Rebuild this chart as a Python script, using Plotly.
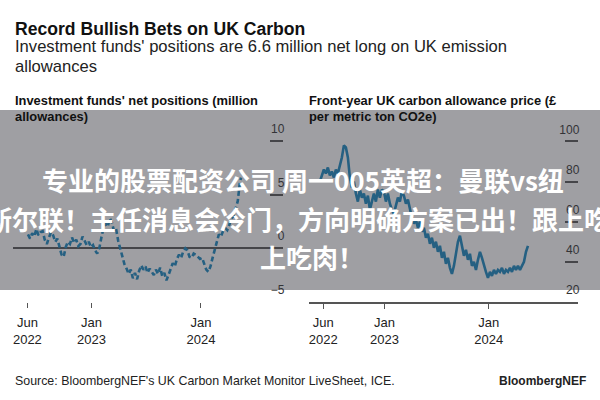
import plotly.graph_objects as go

# ---------------- data ----------------
left_dates = [
    "2022-06-03","2022-06-10","2022-06-17","2022-06-24","2022-07-01","2022-07-08","2022-07-15","2022-07-22",
    "2022-07-29","2022-08-05","2022-08-12","2022-08-19","2022-08-26","2022-09-02","2022-09-09","2022-09-16",
    "2022-09-23","2022-09-30","2022-10-07","2022-10-14","2022-10-21","2022-10-28","2022-11-04","2022-11-11",
    "2022-11-18","2022-11-25","2022-12-02","2022-12-09","2022-12-16","2022-12-23","2022-12-30","2023-01-06",
    "2023-01-13","2023-01-20","2023-01-27","2023-02-03","2023-02-10","2023-02-17","2023-02-24","2023-03-03",
    "2023-03-10","2023-03-17","2023-03-24","2023-03-31","2023-04-07","2023-04-14","2023-04-21","2023-04-28",
    "2023-05-05","2023-05-12","2023-05-19","2023-05-26","2023-06-02","2023-06-09","2023-06-16","2023-06-23",
    "2023-06-30","2023-07-07","2023-07-14","2023-07-21","2023-07-28","2023-08-04","2023-08-11","2023-08-18",
    "2023-08-25","2023-09-01","2023-09-08","2023-09-15","2023-09-22","2023-09-29","2023-10-06","2023-10-13",
    "2023-10-20","2023-10-27","2023-11-03","2023-11-10","2023-11-17","2023-11-24","2023-12-01","2023-12-08",
    "2023-12-15","2023-12-22","2023-12-29","2024-01-05","2024-01-12","2024-01-19","2024-01-26","2024-02-02",
    "2024-02-09","2024-02-16","2024-02-23","2024-03-01","2024-03-08","2024-03-15","2024-03-22","2024-03-29",
    "2024-04-05","2024-04-12","2024-04-19","2024-04-26","2024-05-03","2024-05-10","2024-05-14",
]
left_values = [
    1.3, 0.9, 1.4, 1.1, 1.8, 1.2, 1.5, 1.6,
    0.8, 0.4, 1.0, 1.5, 1.2, 0.6, 0.9, 0.2,
    -0.6, -0.8, 0.1, 0.6, 0.4, 1.0, 0.5, 0.8,
    0.2, 0.4, 1.1, 0.7, 0.3, 0.6, 0.1, 0.3,
    -0.2, -0.5, 0.0, 1.0, 1.9, 2.3, 2.0, 2.8,
    2.4, 1.6, 1.8, 0.7, -0.1, -0.8, -1.5, -1.9,
    -2.4, -2.0, -2.8, -2.3, -2.9, -2.1, -1.6, -2.0,
    -1.7, -2.3, -1.9, -2.2, -2.5, -2.0, -2.4, -1.8,
    -2.6, -2.3, -3.0, -2.5, -1.9, -1.4, -1.7, -1.0,
    -0.6, -0.9, -0.3, 0.0, -0.2, -0.8, -0.9, -0.5,
    -0.6, -0.8, -1.0, -0.9, -1.4, -2.0, -2.2, -1.7,
    -0.9, -0.2, 0.5, 1.3, 1.1, 1.6, 1.9, 1.7,
    2.2, 2.8, 3.0, 3.6, 4.4, 6.1, 6.6,
]

right_dates = [
    "2022-05-20","2022-05-27","2022-06-03","2022-06-10","2022-06-17","2022-06-24","2022-07-01","2022-07-08",
    "2022-07-15","2022-07-22","2022-07-29","2022-08-05","2022-08-12","2022-08-19","2022-08-26","2022-09-02",
    "2022-09-09","2022-09-16","2022-09-23","2022-09-30","2022-10-07","2022-10-14","2022-10-21","2022-10-28",
    "2022-11-04","2022-11-11","2022-11-18","2022-11-25","2022-12-02","2022-12-09","2022-12-16","2022-12-23",
    "2022-12-30","2023-01-06","2023-01-13","2023-01-20","2023-01-27","2023-02-03","2023-02-10","2023-02-17",
    "2023-02-24","2023-03-03","2023-03-10","2023-03-17","2023-03-24","2023-03-31","2023-04-07","2023-04-14",
    "2023-04-21","2023-04-28","2023-05-05","2023-05-12","2023-05-19","2023-05-26","2023-06-02","2023-06-09",
    "2023-06-16","2023-06-23","2023-06-30","2023-07-07","2023-07-14","2023-07-21","2023-07-28","2023-08-04",
    "2023-08-11","2023-08-18","2023-08-25","2023-09-01","2023-09-08","2023-09-15","2023-09-22","2023-09-29",
    "2023-10-06","2023-10-13","2023-10-20","2023-10-27","2023-11-03","2023-11-10","2023-11-17","2023-11-24",
    "2023-12-01","2023-12-08","2023-12-15","2023-12-22","2023-12-29","2024-01-05","2024-01-12","2024-01-19",
    "2024-01-26","2024-02-02","2024-02-09","2024-02-16","2024-02-23","2024-03-01","2024-03-08","2024-03-15",
    "2024-03-22","2024-03-29","2024-04-05","2024-04-12","2024-04-19","2024-04-26","2024-05-03","2024-05-10",
    "2024-05-17",
]
right_values = [
    80, 83, 86, 84, 87, 83, 85, 82,
    86, 84, 88, 92, 98, 97, 92, 82,
    77, 80, 74, 70, 76, 72, 74, 69,
    73, 66, 70, 74, 70, 76, 72, 76,
    75, 70, 74, 69, 66, 64, 68, 72,
    70, 75, 73, 69, 71, 66, 62, 59,
    61, 57, 60, 55, 57, 52, 54, 49,
    52, 47, 50, 45, 48, 42, 45, 39,
    42, 37, 34, 38, 44, 50, 53, 47,
    43, 46, 41, 44, 38, 40, 36, 41,
    45, 42, 38, 35, 32, 35, 33, 36,
    34, 36, 35, 37, 34, 36, 35, 37,
    35, 38, 36, 38, 36, 38, 40, 45,
    48,
]

left_yticks = [-5, 0, 5, 10]
right_yticks = [20, 40, 60, 80, 100]
x_tickvals = ["2022-06-01", "2023-01-01", "2024-01-01"]
x_ticktext = ["Jun<br>2022", "Jan<br>2023", "Jan<br>2024"]

title = "Record Bullish Bets on UK Carbon"
subtitle_lines = ["Investment funds' positions are 6.6 million net long on UK emission", "allowances"]
left_title_lines = ["Investment funds' net positions (million", "allowances)"]
right_title_lines = ["Front-year UK carbon allowance price (£", "per metric ton CO2e)"]
source = "Source: BloombergNEF's UK Carbon Market Monitor LiveSheet, ICE."
brand = "BloombergNEF"
overlay_lines = [
    "专业的股票配资公司 周一005英超：曼联vs纽",
    "卡斯尔联！主任消息会冷门，方向明确方案已出！跟上吃",
    "上吃肉！",
]

# ---------------- layout helpers ----------------
W, H = 600, 400
def px(x):
    return x / W
def py(y):
    return 1 - y / H

FONT = "Liberation Sans, Arial, Helvetica, sans-serif"
AX = "#555555"
LINE = "#1a88c0"

fig = go.Figure()
fig.add_trace(go.Scatter(x=left_dates, y=left_values, mode="lines",
                         line=dict(color=LINE, width=2.6, dash="5px,3px"),
                         xaxis="x", yaxis="y", hoverinfo="skip"))
fig.add_trace(go.Scatter(x=right_dates, y=right_values, mode="lines",
                         line=dict(color=LINE, width=2.6),
                         xaxis="x2", yaxis="y2", hoverinfo="skip"))

# plot area from y=116 px to y=302 px; value 10 / 100 sits at y=141 px
ydom = [py(302), py(116)]
common_y = dict(side="right", ticks="inside", ticklen=13, tickwidth=1.5, tickcolor=AX,
                ticklabelposition="inside", ticklabelstandoff=-15, ticklabelshift=-12,
                showgrid=False, showline=False, domain=ydom,
                tickfont=dict(family=FONT, size=12, color="#333333"))
common_x = dict(type="date", tickvals=x_tickvals, ticktext=x_ticktext,
                ticks="outside", ticklen=5, tickwidth=1, tickcolor=AX,
                showgrid=False, zeroline=False, ticklabelstandoff=3,
                tickfont=dict(family=FONT, size=13, color="#222222"))

fig.update_layout(
    width=W, height=H, margin=dict(l=0, r=0, t=0, b=0),
    paper_bgcolor="white", plot_bgcolor="white", showlegend=False,
    hovermode=False,
    xaxis=dict(common_x, domain=[px(13), px(283)], anchor="y",
               range=["2022-04-14", "2024-10-01"], showline=False),
    yaxis=dict(common_y, anchor="x", range=[-5.02, 12.355], tickvals=left_yticks,
               zeroline=True, zerolinecolor=AX, zerolinewidth=1.5),
    xaxis2=dict(common_x, domain=[px(309), px(578)], anchor="y2",
                range=["2022-04-12", "2024-11-08"], showline=True,
                linecolor=AX, linewidth=1.5),
    yaxis2=dict(common_y, anchor="x2", range=[20, 112.65], tickvals=right_yticks,
                zeroline=False),
)

ann = []
def text(t, x, y, size, bold=False, anchor="left", color="#111111", family=FONT):
    ann.append(dict(text=("<b>" + t + "</b>") if bold else t, x=px(x), y=py(y),
                    xref="paper", yref="paper", xanchor=anchor, yanchor="middle",
                    showarrow=False, font=dict(family=family, size=size, color=color)))

text(title, 13, 29, 17.6, bold=True)
text(subtitle_lines[0], 13, 46, 16.6, color="#222222")
text(subtitle_lines[1], 13, 66, 16.6, color="#222222")
text(left_title_lines[0], 13, 101, 12.9, bold=True)
text(left_title_lines[1], 13, 116, 12.9, bold=True)
text(right_title_lines[0], 307, 101, 12.9, bold=True)
text(right_title_lines[1], 307, 116, 12.9, bold=True)
text(source, 13, 381, 12.4, color="#222222")
text(brand, 588, 381, 12, bold=True, anchor="right", color="#222222")

CJK = "Noto Sans CJK SC"
for txt, x0, yc in zip(overlay_lines, [40, -42, 258], [179, 218, 256]):
    text(txt, x0, yc, 26, bold=True, color="white", family=CJK)
fig.update_layout(annotations=ann)

fig.add_shape(type="rect", xref="paper", yref="paper", x0=0, x1=1, y0=py(290), y1=py(110),
              fillcolor="rgba(50,50,60,0.47)", line=dict(width=0), layer="above")

fig.write_html("out.html", config={"displayModeBar": False},
               post_script="document.body.style.margin='0';document.body.style.overflow='hidden';")
